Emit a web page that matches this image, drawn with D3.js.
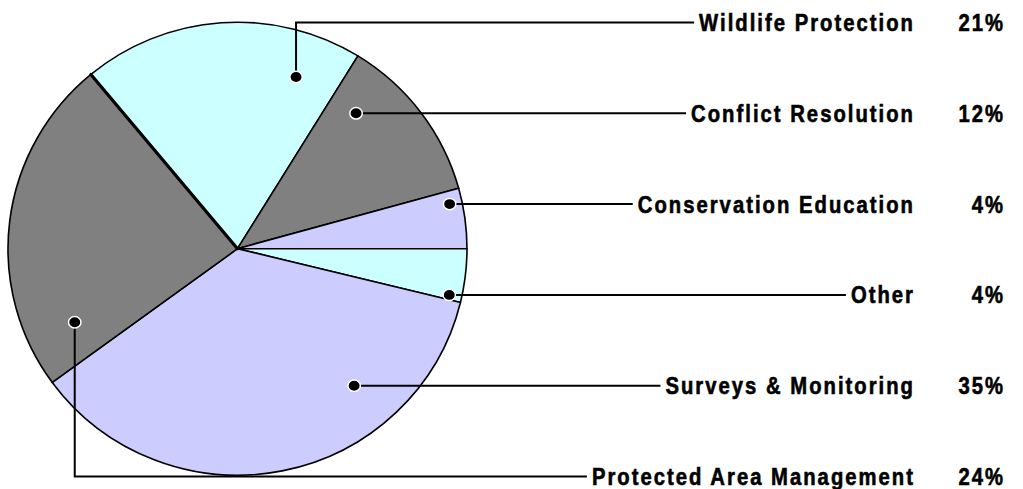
<!DOCTYPE html>
<html>
<head>
<meta charset="utf-8">
<script src="https://cdn.jsdelivr.net/npm/d3@7"></script>
<style>
  html, body { margin: 0; padding: 0; background: #ffffff; }
  svg { display: block; }
  .lbl { font-family: "Liberation Sans", Arial, sans-serif; font-weight: bold; font-size: 23px; letter-spacing: 2.3px; fill: #000; stroke: #000; stroke-width: 0.6px; }
</style>
</head>
<body>
<svg id="chart" width="1023" height="489"></svg>
<script>
// ---- data ----
const categories = ["Wildlife Protection", "Conflict Resolution", "Conservation Education", "Other", "Surveys & Monitoring", "Protected Area Management"];
const sliceValues = [19.8, 11.9, 4.3, 3.8, 36.1, 24.0];          // slice sizes
const percentLabels = ["21%", "12%", "4%", "4%", "35%", "24%"];    // labels printed on the chart
const sliceColors = ["#CCFFFF", "#808080", "#CCCCFF", "#CCFFFF", "#CCCCFF", "#808080"];

// ---- layout ----
const W = 1023, H = 489;
const cx = 237.5, cy = 248.7, R = 229.5, sy = 0.987;
const startDeg = -39.7;
const leaderAngle = [18.6, null, null, null, null, 245.4];   // degrees clockwise from top (null = on label row)
const leaderRadius = [0.80, 0.79, 0.945, 0.945, 0.79, 0.78];
const labelEndX = 915.0, pctEndX = 1005.0, condense = 0.88;

const svg = d3.select("#chart");

const pie = d3.pie().sort(null).value(d => d)
  .startAngle(startDeg * Math.PI / 180)
  .endAngle(startDeg * Math.PI / 180 + 2 * Math.PI);
const arcs = pie(sliceValues);
const arc = d3.arc().innerRadius(0).outerRadius(R);

const g = svg.append("g").attr("transform", `translate(${cx},${cy}) scale(1,${sy})`);
g.selectAll("path.slice").data(arcs).join("path")
  .attr("class", "slice")
  .attr("d", arc)
  .attr("fill", (d, i) => sliceColors[i])
  .attr("stroke", "#000")
  .attr("stroke-width", 1.6)
  .attr("stroke-linejoin", "round");

// heavier start edge
const a0 = arcs[0].startAngle;
g.append("line")
  .attr("x1", 0).attr("y1", 0)
  .attr("x2", R * Math.sin(a0)).attr("y2", -R * Math.cos(a0))
  .attr("stroke", "#000").attr("stroke-width", 3.2).attr("stroke-linecap", "round");

// label rows
const rowY = d3.scalePoint().domain(categories).range([22.5, 476.5]);

// labels (condensed horizontally)
const labels = svg.append("g").selectAll("g.name").data(categories).join("g")
  .attr("class", "name")
  .attr("transform", d => `translate(${labelEndX},${rowY(d) + 8.5}) scale(${condense},1)`);
labels.append("text")
  .attr("class", "lbl")
  .attr("text-anchor", "end")
  .text(d => d);

svg.append("g").selectAll("g.pct").data(percentLabels).join("g")
  .attr("class", "pct")
  .attr("transform", (d, i) => `translate(${pctEndX},${rowY(categories[i]) + 8.5}) scale(${condense},1)`)
  .append("text")
  .attr("class", "lbl")
  .attr("text-anchor", "end")
  .text(d => d);

// anchors
const anchors = categories.map((c, i) => {
  const y = rowY(c);
  const kr = leaderRadius[i] * R;
  if (leaderAngle[i] === null) {
    const dy = (y - cy) / sy;
    return { x: cx + Math.sqrt(kr * kr - dy * dy), y: y };
  }
  const a = leaderAngle[i] * Math.PI / 180;
  return { x: cx + kr * Math.sin(a), y: cy - kr * Math.cos(a) * sy };
});

const starts = labels.selectAll("text").nodes().map(n => n.getBoundingClientRect().left);

const leaders = svg.append("g");
categories.forEach((c, i) => {
  const y = rowY(c), p = anchors[i];
  const path = d3.path();
  path.moveTo(p.x, p.y);
  if (Math.abs(p.y - y) > 0.5) path.lineTo(p.x, y);
  path.lineTo(starts[i] - 6, y);
  leaders.append("path")
    .attr("d", path.toString())
    .attr("fill", "none")
    .attr("stroke", "#000")
    .attr("stroke-width", 2)
    .attr("stroke-linejoin", "miter")
    .attr("stroke-linecap", "square");
});

svg.append("g").selectAll("ellipse").data(anchors).join("ellipse")
  .attr("cx", d => d.x).attr("cy", d => d.y)
  .attr("rx", 6.2).attr("ry", 5.7)
  .attr("fill", "#000")
  .attr("stroke", "#fff")
  .attr("stroke-width", 1.5);
</script>
</body>
</html>
